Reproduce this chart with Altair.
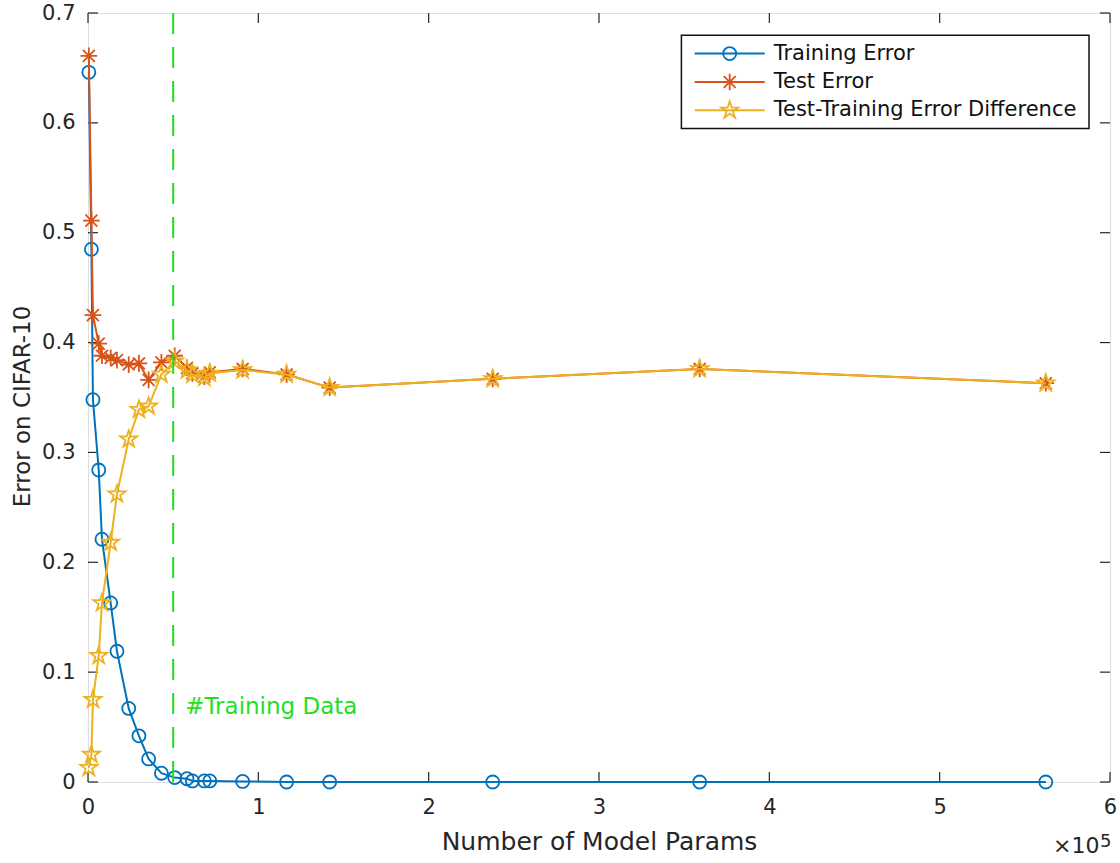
import altair as alt
import pandas as pd

# Model size (number of parameters) for each trained network
params = [500, 2000, 2900, 6300, 8200, 13300, 17000, 23900, 29900, 35600, 43100, 50900,
          58100, 61300, 68300, 71500, 90800, 116600, 141900, 237600, 359100, 562300]
train_err = [0.646, 0.485, 0.348, 0.284, 0.221, 0.163, 0.119, 0.067, 0.042, 0.021, 0.008, 0.004,
             0.003, 0.001, 0.001, 0.001, 0.0005, 0.0, 0.0, 0.0, 0.0, 0.0]
test_err = [0.661, 0.511, 0.425, 0.399, 0.388, 0.386, 0.384, 0.380, 0.381, 0.366, 0.382, 0.388,
            0.377, 0.372, 0.369, 0.373, 0.376, 0.371, 0.359, 0.367, 0.376, 0.363]
gap_err = [0.013, 0.025, 0.075, 0.115, 0.163, 0.218, 0.262, 0.312, 0.339, 0.342, 0.371, 0.383,
           0.375, 0.371, 0.368, 0.372, 0.375, 0.371, 0.359, 0.367, 0.376, 0.363]

n_train_data = 50000
x_ticks = [0, 100000, 200000, 300000, 400000, 500000, 600000]
y_ticks = [0, 0.1, 0.2, 0.3, 0.4, 0.5, 0.6, 0.7]

series_names = ["Training Error", "Test Error", "Test-Training Error Difference"]
series_colors = ["#0072BD", "#D95319", "#EDB120"]
series_values = [train_err, test_err, gap_err]

W, H = 1022, 769
INK = "#262626"
FONT = "DejaVu Sans"
GREEN = "#1FE01F"

CIRCLE = "circle"
ASTERISK = "M0,-1L0,1M-1,0L1,0M-0.71,-0.71L0.71,0.71M-0.71,0.71L0.71,-0.71"
STAR = ("M0,-1L0.2245,-0.309L0.951,-0.309L0.3633,0.118L0.5878,0.809L0,0.382"
        "L-0.5878,0.809L-0.3633,0.118L-0.951,-0.309L-0.2245,-0.309Z")
series_shapes = [CIRCLE, ASTERISK, STAR]
series_sizes = [170, 280, 320]

x_scale = alt.Scale(domain=[0, 600000], nice=False, zero=False)
y_scale = alt.Scale(domain=[0, 0.7], nice=False, zero=False)

x_axis = alt.Axis(values=x_ticks, labelExpr="format(datum.value / 100000, 'd')",
                  ticks=False, domain=False, grid=False, labelFlush=False, labelOverlap=False,
                  labelFontSize=21, labelColor=INK, labelPadding=14,
                  title="Number of Model Params", titleFontSize=25, titleFontWeight="normal",
                  titleColor=INK, titlePadding=12)
y_axis = alt.Axis(values=y_ticks, labelExpr="datum.value == 0 ? '0' : format(datum.value, '.1f')",
                  ticks=False, domain=False, grid=False, labelFlush=False, labelOverlap=False,
                  labelFontSize=21, labelColor=INK, labelPadding=13,
                  title="Error on CIFAR-10", titleFontSize=23, titleFontWeight="normal",
                  titleColor=INK, titlePadding=7, titleY=393)


def X(field):
    return alt.X(field, type="quantitative", scale=x_scale, axis=x_axis)


def Y(field):
    return alt.Y(field, type="quantitative", scale=y_scale, axis=y_axis)


layers = []

# inward tick marks on all four sides of the box
xt = pd.DataFrame({"t": x_ticks})
yt = pd.DataFrame({"t": y_ticks})
layers.append(alt.Chart(xt).mark_rule(color=INK, strokeWidth=1.2).encode(
    x=X("t"), y=alt.value(H), y2=alt.value(H - 10)))
layers.append(alt.Chart(xt).mark_rule(color=INK, strokeWidth=1.2).encode(
    x=X("t"), y=alt.value(0), y2=alt.value(10)))
layers.append(alt.Chart(yt).mark_rule(color=INK, strokeWidth=1.2).encode(
    y=Y("t"), x=alt.value(0), x2=alt.value(10)))
layers.append(alt.Chart(yt).mark_rule(color=INK, strokeWidth=1.2).encode(
    y=Y("t"), x=alt.value(W), x2=alt.value(W - 10)))

# the three error curves, each a line with its own marker
for name, color, vals, shape, size in zip(series_names, series_colors, series_values,
                                          series_shapes, series_sizes):
    df = pd.DataFrame({"params": params, "err": vals})
    base = alt.Chart(df)
    layers.append(base.mark_line(color=color, strokeWidth=2, clip=False).encode(
        x=X("params"), y=Y("err")))
    layers.append(base.mark_point(shape=shape, size=size, color=color, filled=False,
                                  strokeWidth=1.8, opacity=1, clip=False).encode(
        x=X("params"), y=Y("err")))

# number of training samples marker
vline = pd.DataFrame({"x": [n_train_data], "y0": [0.0], "y1": [0.7]})
layers.append(alt.Chart(vline).mark_rule(color=GREEN, strokeWidth=2, strokeDash=[21, 13]).encode(
    x=X("x"), y=Y("y0"), y2="y1"))
vlabel = pd.DataFrame({"x": [n_train_data], "y": [0.0623], "label": ["#Training Data"]})
layers.append(alt.Chart(vlabel).mark_text(color=GREEN, fontSize=23, align="left",
                                          baseline="alphabetic", dx=12, font=FONT).encode(
    x=X("x"), y=Y("y"), text="label:N"))

# legend box in the upper right corner
one = pd.DataFrame({"k": [0]})
layers.append(alt.Chart(one).mark_rect(fill="white", stroke="#111111", strokeWidth=1.5).encode(
    x=alt.value(593.4), x2=alt.value(1001), y=alt.value(22.3), y2=alt.value(115.6)))
row_y = [40.6, 69.0, 97.3]
for name, color, shape, size, ry in zip(series_names, series_colors, series_shapes,
                                        series_sizes, row_y):
    layers.append(alt.Chart(one).mark_rule(color=color, strokeWidth=2).encode(
        x=alt.value(606.7), x2=alt.value(676.7), y=alt.value(ry)))
    layers.append(alt.Chart(one).mark_point(shape=shape, size=size, color=color, filled=False,
                                            strokeWidth=1.8, opacity=1).encode(
        x=alt.value(641.7), y=alt.value(ry)))
    layers.append(alt.Chart(one).mark_text(text=name, fontSize=21, align="left", baseline="middle",
                                           color="#111111", font=FONT).encode(
        x=alt.value(685.7), y=alt.value(ry)))

# axis exponent note
layers.append(alt.Chart(one).mark_text(text="×10", fontSize=22, align="right",
                                       baseline="alphabetic", color=INK, font=FONT).encode(
    x=alt.value(1011.5), y=alt.value(840)))
layers.append(alt.Chart(one).mark_text(text="5", fontSize=18, align="left",
                                       baseline="alphabetic", color=INK, font=FONT).encode(
    x=alt.value(1012), y=alt.value(834)))

chart = alt.layer(*layers).properties(
    width=W, height=H,
    padding={"left": 88, "top": 13, "right": 10, "bottom": 81},
    autosize=alt.AutoSizeParams(type="none"),
).configure_view(
    stroke=INK, strokeWidth=1.5
).configure(
    font=FONT, background="white"
)

chart.save("out.html", embed_options={"renderer": "svg", "actions": False})
